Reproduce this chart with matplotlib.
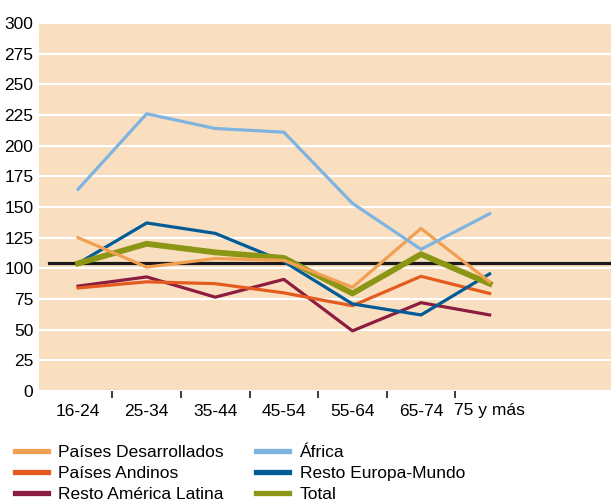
import matplotlib
matplotlib.use("Agg")
import matplotlib.pyplot as plt
import numpy as np
from matplotlib.lines import Line2D

plt.rcParams['font.family'] = ['Liberation Sans', 'DejaVu Sans']

grupos = ["16-24", "25-34", "35-44", "45-54", "55-64", "65-74", "75 y más"]

desarrollados = [125, 101, 108, 106.5, 84.5, 132.5, 89]
andinos = [84, 89, 87.5, 80, 69.5, 93.5, 79.5]
resto_al = [85.5, 93, 76.5, 91, 49, 72, 62]
africa = [164.5, 226, 214, 211, 153, 115.5, 144.5]
resto_europa = [104, 137, 128.5, 105.5, 71, 62, 95.5]
total = [104, 120, 113, 108.5, 79.5, 111.5, 87.5]
referencia = 104

fondo = "#f9dfc0"

fig = plt.figure(figsize=(6.11, 5.04), dpi=100)
ax = fig.add_axes([39 / 611, (504 - 391) / 504, 1 - 39 / 611, 368 / 504])
ax.set_facecolor(fondo)

x = np.arange(len(grupos))

ax.set_ylim(0, 300)
ax.set_xlim(-0.57, 7.77)
ax.set_yticks(np.arange(0, 301, 25))
ax.yaxis.grid(True, color="white", linewidth=1.5)
ax.set_axisbelow(True)
for s in ax.spines.values():
    s.set_visible(False)

ax.axhline(referencia, xmin=(49 - 39) / 572, xmax=1, color="#1a1a1a", linewidth=2.3, zorder=2)

ax.plot(x, resto_al, color="#8c1d40", linewidth=2.3, zorder=3)
ax.plot(x, andinos, color="#e35b1e", linewidth=2.3, zorder=3)
ax.plot(x, resto_europa, color="#005b97", linewidth=2.3, zorder=4)
ax.plot(x, total, color="#8a9614", linewidth=4.2, zorder=5)
ax.plot(x, desarrollados, color="#f0a050", linewidth=2.3, zorder=6)
ax.plot(x, africa, color="#7fb4e1", linewidth=2.3, zorder=7)

# ticks at the boundaries, labels centred on the groups
ax.set_xticks(x[:-1] + 0.5)
ax.set_xticklabels([])
ax.set_xticks(x, minor=True)
ax.set_xticklabels(grupos, minor=True, fontsize=12.5)
ax.tick_params(axis="x", which="major", length=5, width=1.2, color="#1a1a1a", direction="out")
ax.tick_params(axis="x", which="minor", length=0, pad=9)
ax.tick_params(axis="y", length=0, labelsize=12.5, pad=4)

handles = [
    Line2D([], [], color="#f0a050", linewidth=3.8),
    Line2D([], [], color="#e35b1e", linewidth=3.8),
    Line2D([], [], color="#8c1d40", linewidth=3.8),
    Line2D([], [], color="#7fb4e1", linewidth=3.8),
    Line2D([], [], color="#005b97", linewidth=3.8),
    Line2D([], [], color="#8a9614", linewidth=3.8),
]
labels = ["Países Desarrollados", "Países Andinos", "Resto América Latina",
          "África", "Resto Europa-Mundo", "Total"]
fig.legend(handles, labels, ncol=2, loc="upper left",
           bbox_to_anchor=(15 / 611, (504 - 445) / 504),
           frameon=False, fontsize=12.5, handlelength=1.9, handletextpad=0.6,
           columnspacing=1.85, labelspacing=0.33, borderpad=0, borderaxespad=0)

fig.savefig("out.png", dpi=100)
